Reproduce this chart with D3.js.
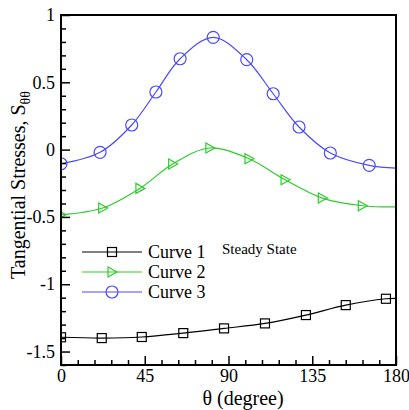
<!DOCTYPE html>
<html>
<head>
<meta charset="utf-8">
<script src="https://cdn.jsdelivr.net/npm/d3@7"></script>
<style>
  body { margin: 0; background: #fff; }
  svg text { font-family: "Liberation Serif", "Times New Roman", Times, "DejaVu Serif", serif; fill: #000; }
</style>
</head>
<body>
<div id="graph"></div>
<script>
// values (theta in degrees, stress)
var theta1 = [0, 21.9, 43.4, 65.7, 87.6, 109.6, 131.6, 153, 174.6, 180];
var curve1 = [-1.394, -1.400, -1.392, -1.363, -1.328, -1.291, -1.229, -1.155, -1.108, -1.105];

var theta2 = [0, 22.4, 42.4, 60, 80, 101, 120.4, 140.4, 161.9, 180];
var curve2 = [-0.484, -0.434, -0.288, -0.107, 0.012, -0.068, -0.224, -0.360, -0.417, -0.426];

var theta3 = [0, 21, 38, 51, 64, 81.8, 99.8, 114, 127.9, 144.7, 165.6, 180];
var curve3 = [-0.105, -0.020, 0.183, 0.428, 0.675, 0.834, 0.668, 0.415, 0.168, -0.025, -0.117, -0.137];

var seriesNames = ["Curve 1", "Curve 2", "Curve 3"];
var xTicks = [0, 45, 90, 135, 180];
var yTicks = [-1.5, -1, -0.5, 0, 0.5, 1];
var yTickLabels = ["-1.5", "-1", "-0.5", "0", "0.5", "1"];
var note = "Steady State";

var width = 409, height = 410;
var margin = { top: 15, left: 61, right: 13, bottom: 45 };
var chartWidth = width - margin.left - margin.right;
var chartHeight = height - margin.top - margin.bottom;

var xScale = d3.scaleLinear().domain([0, 180]).range([0, chartWidth]);
var yScale = d3.scaleLinear().domain([-1.6, 1]).range([chartHeight, 0]);

var colors = ["#000000", "#2ccc2c", "#4a4aff"];
var symbols = ["square", "triangle", "circle"];

var svg, chartLayer, axisLayer;

function zip(t, v) {
  return t.map(function(d, i) { return { x: d, y: v[i] }; });
}

var series = [zip(theta1, curve1), zip(theta2, curve2), zip(theta3, curve3)];

function init() {
  svg = d3.select("#graph").append("svg")
    .attr("width", width)
    .attr("height", height);

  svg.append("defs").append("clipPath")
    .attr("id", "clip")
    .append("rect")
    .attr("width", chartWidth)
    .attr("height", chartHeight);

  chartLayer = svg.append("g")
    .attr("transform", "translate(" + [margin.left, margin.top] + ")");
  axisLayer = svg.append("g")
    .attr("transform", "translate(" + [margin.left, margin.top] + ")");
}

function drawMarker(g, kind, color) {
  if (kind == "circle") {
    g.append("circle").attr("r", 6);
  } else if (kind == "square") {
    g.append("rect").attr("x", -4.5).attr("y", -4.5).attr("width", 9).attr("height", 9);
  } else {
    g.append("path").attr("d", "M-4,-5L5,0L-4,5Z");
  }
  g.selectAll("*")
    .attr("fill", "none")
    .attr("stroke", color)
    .attr("stroke-width", 1.2);
}

function drawChart() {
  var line = d3.line()
    .x(function(d) { return xScale(d.x); })
    .y(function(d) { return yScale(d.y); })
    .curve(d3.curveCatmullRom.alpha(0.5));

  var plot = chartLayer.append("g").attr("clip-path", "url(#clip)");

  series.forEach(function(pts, i) {
    plot.append("path")
      .datum(pts)
      .attr("fill", "none")
      .attr("stroke", colors[i])
      .attr("stroke-width", 1.2)
      .attr("d", line);

    // last point is the curve end, it carries no symbol
    plot.selectAll(".m" + i)
      .data(pts.slice(0, -1))
      .enter().append("g")
      .attr("class", "m" + i)
      .attr("transform", function(d) {
        return "translate(" + [xScale(d.x), yScale(d.y)] + ")";
      })
      .each(function() { drawMarker(d3.select(this), symbols[i], colors[i]); });
  });
}

function drawAxis() {
  var yMinor = d3.range(-16, 11).map(function(v) { return v / 10; })
    .filter(function(v) { return yTicks.indexOf(v) == -1; });
  var xMinor = d3.range(0, 181, 9)
    .filter(function(v) { return xTicks.indexOf(v) == -1; });

  axisLayer.append("g")
    .attr("class", "axis y")
    .call(d3.axisLeft(yScale).tickValues(yTicks).tickSize(-9).tickPadding(6)
      .tickFormat(function(d, i) { return yTickLabels[i]; }));
  axisLayer.append("g")
    .attr("class", "axis y minor")
    .call(d3.axisLeft(yScale).tickValues(yMinor).tickSize(-5).tickFormat(""));

  axisLayer.append("g")
    .attr("class", "axis x")
    .attr("transform", "translate(0," + chartHeight + ")")
    .call(d3.axisBottom(xScale).tickValues(xTicks).tickSize(-9).tickPadding(4));
  axisLayer.append("g")
    .attr("class", "axis x minor")
    .attr("transform", "translate(0," + chartHeight + ")")
    .call(d3.axisBottom(xScale).tickValues(xMinor).tickSize(-5).tickFormat(""));

  axisLayer.selectAll(".axis .domain").remove();
  axisLayer.selectAll(".axis .tick line").attr("stroke", "#000").attr("stroke-width", 1.5);
  axisLayer.selectAll(".axis text")
    .attr("font-family", null)
    .attr("font-size", 18)
    .attr("fill", "#000");
  axisLayer.selectAll(".axis.x text").attr("dy", "0.7em");

  // frame
  axisLayer.append("rect")
    .attr("width", chartWidth)
    .attr("height", chartHeight)
    .attr("fill", "none")
    .attr("stroke", "#000")
    .attr("stroke-width", 2);

  axisLayer.append("text")
    .attr("x", 182)
    .attr("y", chartHeight + 40)
    .attr("text-anchor", "middle")
    .attr("font-size", 20)
    .text("\u03b8 (degree)");

  var yTitle = axisLayer.append("text")
    .attr("transform", "translate(" + [-margin.left + 25, 185 - margin.top] + ")rotate(-90)")
    .attr("text-anchor", "middle")
    .attr("font-size", 20);
  yTitle.append("tspan").text("Tangential Stresses, S");
  yTitle.append("tspan").attr("font-size", 14).attr("dy", 5).text("\u03b8\u03b8");
}

function drawLegend() {
  var legend = chartLayer.append("g")
    .attr("class", "legend")
    .attr("transform", "translate(" + [21, 237] + ")");

  var entry = legend.selectAll(".entry")
    .data(seriesNames)
    .enter().append("g")
    .attr("class", "entry")
    .attr("transform", function(d, i) { return "translate(0," + i * 20 + ")"; });

  entry.append("line")
    .attr("x1", 0).attr("x2", 60)
    .attr("stroke", function(d, i) { return colors[i]; })
    .attr("stroke-width", 1.2);
  entry.each(function(d, i) {
    var g = d3.select(this).append("g").attr("transform", "translate(30,0)");
    drawMarker(g, symbols[i], colors[i]);
  });
  entry.append("text")
    .attr("x", 66)
    .attr("dy", "0.32em")
    .attr("font-size", 18)
    .text(function(d) { return d; });

  chartLayer.append("text")
    .attr("x", 161)
    .attr("y", 239)
    .attr("font-size", 15)
    .text(note);
}

init();
drawChart();
drawAxis();
drawLegend();
</script>
</body>
</html>
